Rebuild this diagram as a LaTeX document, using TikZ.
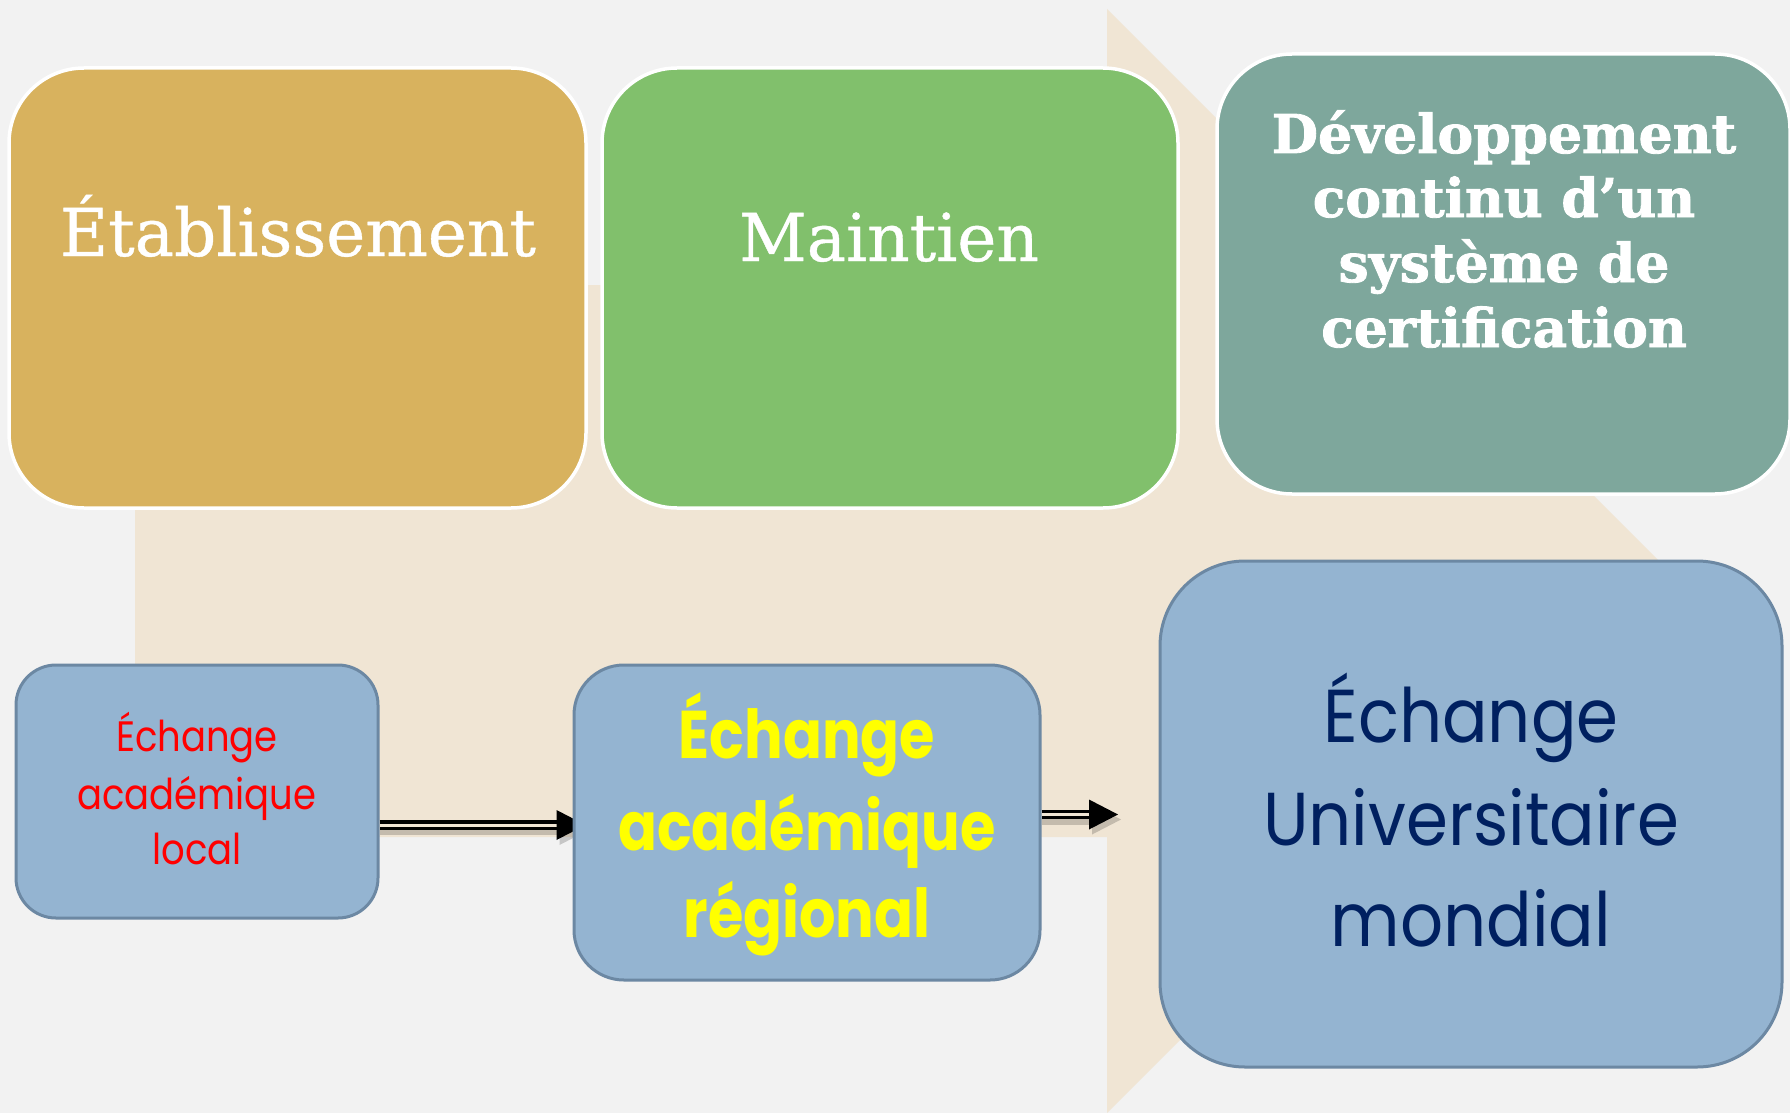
\documentclass[tikz,border=0pt]{standalone}
\usepackage{fontspec}
\setmainfont{DejaVu Serif}
\newfontfamily\rockreg[FakeBold=0.6]{DejaVu Serif}
\newfontfamily\rockbold[FakeBold=1.6]{DejaVu Serif}
\newfontfamily\tw[FakeStretch=0.9]{Poppins}
\newfontfamily\twl[FakeStretch=0.87]{Poppins}
\newfontfamily\twb[FakeStretch=0.85]{Poppins}
\usetikzlibrary{calc}
\definecolor{bgc}{HTML}{F2F2F2}
\definecolor{beige}{HTML}{F0E5D4}
\definecolor{gold}{HTML}{D8B25E}
\definecolor{leaf}{HTML}{81C06C}
\definecolor{teal}{HTML}{7EA79C}
\definecolor{bluebox}{HTML}{94B4D1}
\definecolor{blueedge}{HTML}{6C88A3}
\definecolor{navy}{HTML}{002060}
\definecolor{yel}{HTML}{FFFF00}
\definecolor{redt}{HTML}{FF0000}
\pgfdeclarelayer{bg}
\pgfdeclarelayer{arr}
\pgfsetlayers{bg,arr,main}
\tikzset{
  topbox/.style={draw=white, line width=3.5pt, rounded corners=75pt, inner sep=0pt},
  lowbox/.style={draw=blueedge, fill=bluebox, line width=3pt, inner sep=0pt},
  dbl/.style={draw=black, line width=3.2pt, double=beige, double distance=3pt},
  shad/.style={draw=black, opacity=0.18, line width=10pt},
  shadfill/.style={fill=black, opacity=0.18},
  serifbig/.style={text=white, anchor=base, inner sep=0pt, font=\rockreg\fontsize{66}{80}\selectfont},
  serifbold/.style={text=white, anchor=base, inner sep=0pt, font=\rockbold\fontsize{53.5}{64}\selectfont\bfseries},
  localtxt/.style={text=redt, anchor=base, inner sep=0pt, font=\twl\fontsize{42.5}{57}\selectfont},
  regtxt/.style={text=yel, anchor=base, inner sep=0pt, font=\twb\fontsize{67.5}{90}\selectfont\bfseries},
  mondtxt/.style={text=navy, anchor=base, inner sep=0pt, font=\tw\fontsize{75}{100}\selectfont},
}
\begin{document}
\begin{tikzpicture}[x=1pt,y=-1pt]
\useasboundingbox (0,0) rectangle (1790,1113);
\begin{pgfonlayer}{bg}
  \fill[bgc] (0,0) rectangle (1790,1113);
  \fill[beige] (135,285) -- (1107,285) -- (1107,9) -- (1659,561) -- (1107,1113) -- (1107,837) -- (135,837) -- cycle;
\end{pgfonlayer}

% top boxes
\node[topbox, fill=gold, minimum width=577pt, minimum height=440pt] (etab) at (297.5,288) {};
\node[topbox, fill=leaf, minimum width=576pt, minimum height=440pt] (maint) at (890,288) {};
\node[topbox, fill=teal, minimum width=573pt, minimum height=440pt] (dev) at (1503.5,274) {};

\node[serifbig] (etabt) at (298,256) {Établissement};
\node[serifbig] (maintt) at (889,261) {Maintien};
\node[serifbold] (dev1) at (1504,153) {Développement};
\node[serifbold] (dev2) at (1504,217) {continu d’un};
\node[serifbold] (dev3) at (1504,282) {système de};
\node[serifbold] (dev4) at (1504,347) {certification};

% lower boxes
\node[lowbox, rounded corners=40pt, minimum width=362pt, minimum height=253pt] (local) at (197,791.5) {};
\node[lowbox, rounded corners=50pt, minimum width=466pt, minimum height=315pt] (reg) at (807,822.5) {};
\node[lowbox, rounded corners=85pt, minimum width=622pt, minimum height=506pt] (mond) at (1471,814) {};

\node[localtxt] (loc1) at (197,751) {Échange};
\node[localtxt] (loc2) at (197,809) {académique};
\node[localtxt] (loc3) at (197,864) {local};

\node[regtxt] (reg1) at (807,758) {Échange};
\node[regtxt] (reg2) at (807,850) {académique};
\node[regtxt] (reg3) at (807,937) {régional};

\node[mondtxt] (mon1) at (1471,742) {Échange};
\node[mondtxt] (mon2) at (1471,845) {Universitaire};
\node[mondtxt] (mon3) at (1471,946) {mondial};

% arrows
\coordinate (a1) at (0,825);
\coordinate (a2) at (0,814.5);
\coordinate (tip1) at ($(reg.west |- a1)+(13,0)$);
\coordinate (tip2) at (1118,814.5);
\begin{pgfonlayer}{arr}
  \draw[shad] ($(local.east |- a1)+(0,5)$) -- ($(tip1)+(-20,5)$);
  \fill[shadfill] ($(tip1)+(3,5)$) -- ++(-29,-15) -- ++(0,30) -- cycle;
  \draw[dbl] (local.east |- a1) -- ($(tip1)+(-27,0)$);
  \fill[black] (tip1) -- ++(-29,-15) -- ++(0,30) -- cycle;
  \draw[shad] ($(reg.east |- a2)+(0,5)$) -- ($(tip2)+(-20,5)$);
  \fill[shadfill] ($(tip2)+(3,5)$) -- ++(-29,-15) -- ++(0,30) -- cycle;
  \draw[dbl] (reg.east |- a2) -- ($(tip2)+(-27,0)$);
  \fill[black] (tip2) -- ++(-29,-15) -- ++(0,30) -- cycle;
\end{pgfonlayer}
\end{tikzpicture}
\end{document}
